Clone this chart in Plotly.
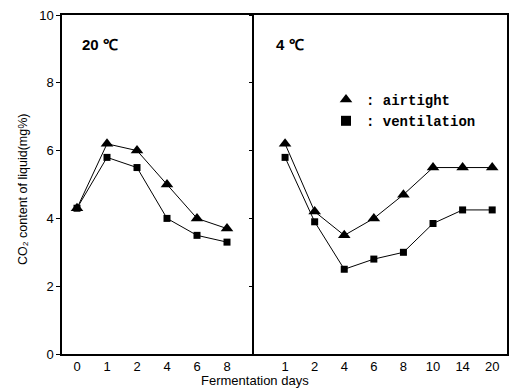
import plotly.graph_objects as go

# ---- data ----
left_days = ["0", "1", "2", "4", "6", "8"]
left_airtight = [4.3, 6.2, 6.0, 5.0, 4.0, 3.7]
left_ventilation = [4.3, 5.8, 5.5, 4.0, 3.5, 3.3]

right_days = ["1", "2", "4", "6", "8", "10", "14", "20"]
right_airtight = [6.2, 4.2, 3.5, 4.0, 4.7, 5.5, 5.5, 5.5]
right_ventilation = [5.8, 3.9, 2.5, 2.8, 3.0, 3.85, 4.25, 4.25]

y_ticks = [0, 2, 4, 6, 8, 10]

W, H = 515, 388
L, M, R = 62, 254, 507
T, B = 15, 354

font_main = "Liberation Sans, Arial, sans-serif"

fig = go.Figure()

def add_series(x, y, symbol, size, xa, ya):
    fig.add_trace(go.Scatter(
        x=x, y=y, mode="lines+markers", xaxis=xa, yaxis=ya,
        line=dict(color="black", width=1),
        marker=dict(symbol=symbol, size=size, color="black"),
        showlegend=False, hoverinfo="x+y"))

add_series(left_days, left_airtight, "triangle-up", 11, "x", "y")
add_series(left_days, left_ventilation, "square", 7, "x", "y")
add_series(right_days, right_airtight, "triangle-up", 11, "x2", "y2")
add_series(right_days, right_ventilation, "square", 7, "x2", "y2")

# legend entries
fig.add_trace(go.Scatter(x=[None], y=[None], mode="markers", xaxis="x2", yaxis="y2",
                         marker=dict(symbol="triangle-up", size=11, color="black"),
                         name=": airtight", showlegend=True))
fig.add_trace(go.Scatter(x=[None], y=[None], mode="markers", xaxis="x2", yaxis="y2",
                         marker=dict(symbol="square", size=10, color="black"),
                         name=": ventilation", showlegend=True))

line_common = dict(showline=True, linecolor="black", linewidth=1.5,
                   showgrid=False, zeroline=False)

fig.update_layout(
    width=W, height=H,
    margin=dict(l=0, r=0, t=0, b=0),
    paper_bgcolor="white", plot_bgcolor="white",
    font=dict(family=font_main, color="black", size=13),
    xaxis=dict(domain=[L / W, M / W], type="category", range=[-0.5, 5.9], mirror=True,
               ticks="", tickfont=dict(size=13), automargin=False, **line_common),
    yaxis=dict(domain=[1 - B / H, 1 - T / H], range=[0, 10], tickvals=y_ticks, mirror=False,
               ticks="outside", ticklen=4, tickwidth=1.2, tickcolor="black",
               tickfont=dict(size=13), automargin=False, **line_common),
    xaxis2=dict(domain=[M / W, R / W], type="category", range=[-1.05, 7.5], mirror=True,
                ticks="", tickfont=dict(size=13), anchor="y2", automargin=False, **line_common),
    yaxis2=dict(domain=[1 - B / H, 1 - T / H], range=[0, 10], tickvals=y_ticks, mirror=True,
                showticklabels=False, ticks="outside", ticklen=3, tickwidth=1,
                tickcolor="black", anchor="x2", automargin=False, **line_common),
    legend=dict(x=326 / W, y=1 - 84 / H, xanchor="left", yanchor="top",
                bgcolor="rgba(0,0,0,0)", borderwidth=0,
                font=dict(family="Liberation Mono, DejaVu Sans Mono, monospace",
                          size=14, color="black", weight="bold"),
                itemwidth=30, tracegroupgap=0),
    annotations=[
        dict(text="<b>20 ℃</b>", x=80 / W, y=1 - 44 / H, xref="paper", yref="paper",
             xanchor="left", yanchor="middle", showarrow=False, font=dict(size=15)),
        dict(text="<b>4 ℃</b>", x=274 / W, y=1 - 44 / H, xref="paper", yref="paper",
             xanchor="left", yanchor="middle", showarrow=False, font=dict(size=15)),
        dict(text="CO₂ content of liquid(mg%)", x=23 / W, y=1 - 190 / H,
             xref="paper", yref="paper", textangle=-90, showarrow=False,
             xanchor="center", yanchor="middle", font=dict(size=12.5)),
        dict(text="Fermentation days", x=255 / W, y=1 - 380 / H,
             xref="paper", yref="paper", showarrow=False,
             xanchor="center", yanchor="middle", font=dict(size=13)),
    ],
)

fig.write_html("out.html")
